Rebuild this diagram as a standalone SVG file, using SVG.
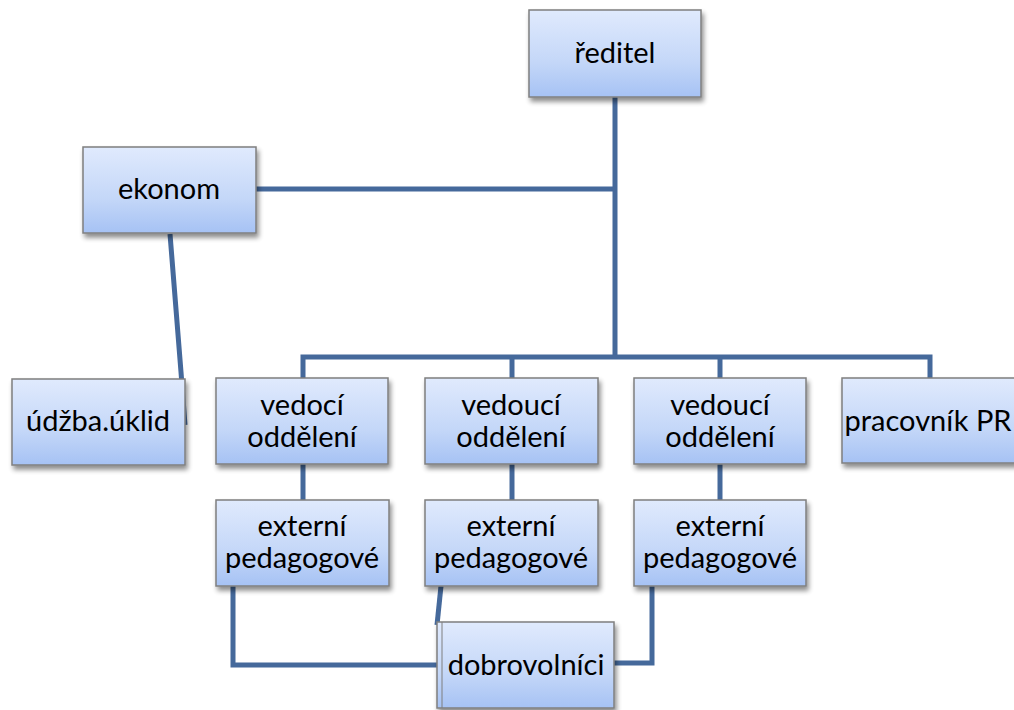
<svg xmlns="http://www.w3.org/2000/svg" width="1014" height="710" viewBox="0 0 1014 710">
<defs>
<linearGradient id="g" x1="0" y1="0" x2="0" y2="1">
<stop offset="0" stop-color="#e0eafd"/>
<stop offset="0.6" stop-color="#c4d7f8"/>
<stop offset="1" stop-color="#a6c2f4"/>
</linearGradient>
<filter id="sh" x="-10%" y="-10%" width="125%" height="130%">
<feGaussianBlur in="SourceAlpha" stdDeviation="2.5"/>
<feOffset dx="2" dy="4" result="b"/>
<feComponentTransfer><feFuncA type="linear" slope="0.45"/></feComponentTransfer>
<feMerge><feMergeNode/><feMergeNode in="SourceGraphic"/></feMerge>
</filter>
</defs>
<style>
.box{fill:url(#g);stroke:#7f7f7f;stroke-width:1.5;filter:url(#sh)}
.t{font-family:Lato,"Liberation Sans",sans-serif;font-size:29px;fill:#000;text-anchor:middle}
.c{fill:none;stroke:#45699b;stroke-width:5;stroke-linejoin:miter}
</style>
<rect width="1014" height="710" fill="#fff"/>
<g id="connectors">
<path class="c" d="M615 97 V357"/>
<path class="c" d="M256 189 H615"/>
<path class="c" d="M303 378 V357 H930 V378"/>
<path class="c" d="M512 357 V378"/>
<path class="c" d="M720 357 V378"/>
<path class="c" d="M170 234 L181 372 L185 425"/>
<path class="c" d="M303 464 V500"/>
<path class="c" d="M512 464 V500"/>
<path class="c" d="M720 464 V500"/>
<path class="c" d="M233 586 V665 H437"/>
<path class="c" d="M441 586 L437 625"/>
<path class="c" d="M652 586 V663 H614"/>
</g>
<g id="reditel"><rect class="box" x="529" y="10" width="172" height="87"/><text class="t" x="615" y="63">ředitel</text></g>
<g id="ekonom"><rect class="box" x="83" y="147" width="173" height="86"/><text class="t" x="169" y="199">ekonom</text></g>
<g id="udrzba"><rect class="box" x="12" y="379" width="173" height="86"/><text class="t" x="98" y="431">údžba.úklid</text></g>
<g id="vedouci1"><rect class="box" x="216" y="378" width="172" height="86"/><text class="t" x="302" y="415">vedocí</text><text class="t" x="302" y="447">oddělení</text></g>
<g id="vedouci2"><rect class="box" x="425" y="378" width="173" height="86"/><text class="t" x="511" y="415">vedoucí</text><text class="t" x="511" y="447">oddělení</text></g>
<g id="vedouci3"><rect class="box" x="634" y="378" width="172" height="86"/><text class="t" x="720" y="415">vedoucí</text><text class="t" x="720" y="447">oddělení</text></g>
<g id="pr"><rect class="box" x="842" y="378" width="174" height="85"/><text class="t" x="928" y="431">pracovník PR</text></g>
<g id="externi1"><rect class="box" x="216" y="500" width="173" height="86"/><text class="t" x="302" y="536">externí</text><text class="t" x="302" y="568">pedagogové</text></g>
<g id="externi2"><rect class="box" x="425" y="500" width="173" height="86"/><text class="t" x="511" y="536">externí</text><text class="t" x="511" y="568">pedagogové</text></g>
<g id="externi3"><rect class="box" x="634" y="500" width="172" height="86"/><text class="t" x="720" y="536">externí</text><text class="t" x="720" y="568">pedagogové</text></g>
<g id="dobrovolnici"><rect class="box" x="437" y="622" width="177" height="86"/><line x1="442" y1="622" x2="442" y2="708" stroke="#7f7f7f" stroke-width="1"/><text class="t" x="526" y="675">dobrovolníci</text></g>
</svg>
